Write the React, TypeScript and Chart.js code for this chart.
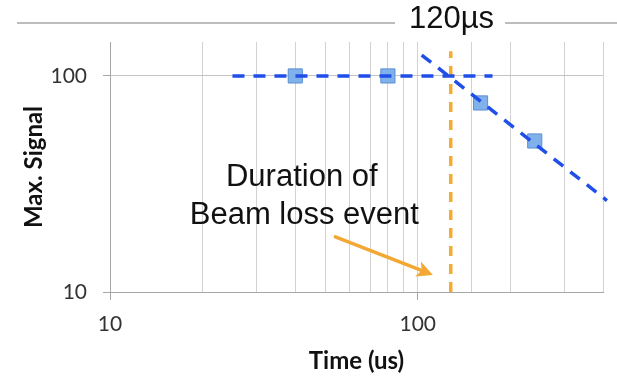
import React, { useEffect, useRef } from "react";
import { Chart, registerables } from "chart.js";

Chart.register(...registerables);

// Measured points (Time in us, Max. Signal)
const pointTimes = [40, 80, 160, 240];
const pointSignals = [100, 100, 75, 50];

// Dashed fit lines
const flatLineTimes = [25, 175];
const flatLineSignals = [100, 100];
const slopeLineTimes = [103, 412];
const slopeLineSignals = [125, 26.5];

// Duration marker (vertical orange dashed line)
const durationTimes = [128, 128];
const durationSignals = [10, 130];

// Arrow from annotation text to duration line
const arrowTimes = [54, 112];
const arrowSignals = [18, 12];

// Annotation text anchors
const noteLines = ["Duration of", "Beam loss event"];
const noteTimes = [42, 42.8];
const noteSignals = [34, 22.5];

const headerText = "120µs";
const xTickLabels = [10, 100];
const yTickLabels = [10, 100];

const toPts = (xs: number[], ys: number[]) => xs.map((x, i) => ({ x, y: ys[i] }));

const overlayPlugin = {
  id: "overlay",
  afterDatasetsDraw(chart: any) {
    const { ctx, scales } = chart;
    const xs = scales.x;
    const ys = scales.y;
    ctx.save();
    // arrow
    const x1 = xs.getPixelForValue(arrowTimes[0]);
    const y1 = ys.getPixelForValue(arrowSignals[0]);
    const x2 = xs.getPixelForValue(arrowTimes[1]);
    const y2 = ys.getPixelForValue(arrowSignals[1]);
    const ang = Math.atan2(y2 - y1, x2 - x1);
    const headLen = 16;
    const headW = 8;
    const bx = x2 - headLen * Math.cos(ang);
    const by = y2 - headLen * Math.sin(ang);
    ctx.strokeStyle = "#f2a833";
    ctx.fillStyle = "#f2a833";
    ctx.lineWidth = 3.5;
    ctx.lineCap = "round";
    ctx.beginPath();
    ctx.moveTo(x1, y1);
    ctx.lineTo(bx + 3 * Math.cos(ang), by + 3 * Math.sin(ang));
    ctx.stroke();
    ctx.beginPath();
    ctx.moveTo(x2, y2);
    ctx.lineTo(bx + headW * Math.sin(ang), by - headW * Math.cos(ang));
    ctx.lineTo(bx + 4 * Math.cos(ang), by + 4 * Math.sin(ang));
    ctx.lineTo(bx - headW * Math.sin(ang), by + headW * Math.cos(ang));
    ctx.closePath();
    ctx.fill();

    // annotation text
    ctx.fillStyle = "#111";
    ctx.font = "31px 'Liberation Sans', Arial, sans-serif";
    ctx.textAlign = "center";
    ctx.textBaseline = "middle";
    noteLines.forEach((t, i) => {
      ctx.fillText(t, xs.getPixelForValue(noteTimes[i]), ys.getPixelForValue(noteSignals[i]));
    });
    ctx.restore();
  },
  afterDraw(chart: any) {
    const { ctx } = chart;
    ctx.save();
    ctx.font = "31px 'Liberation Sans', Arial, sans-serif";
    ctx.textAlign = "left";
    ctx.textBaseline = "alphabetic";
    ctx.fillStyle = "#111";
    const tx = 409;
    const w = ctx.measureText(headerText).width;
    ctx.fillText(headerText, tx, 28);
    ctx.strokeStyle = "#bdbdbd";
    ctx.lineWidth = 2;
    ctx.beginPath();
    ctx.moveTo(17, 23);
    ctx.lineTo(tx - 14, 23);
    ctx.moveTo(tx + w + 11, 23);
    ctx.lineTo(617, 23);
    ctx.stroke();
    ctx.restore();
  },
};

export default function App() {
  const ref = useRef<HTMLCanvasElement>(null);
  useEffect(() => {
    document.body.style.margin = "0";
    const c = new Chart(ref.current!, {
      type: "scatter",
      data: {
        datasets: [
          {
            label: "slope",
            data: toPts(slopeLineTimes, slopeLineSignals),
            showLine: true,
            borderColor: "#1f4fe8",
            borderWidth: 3.5,
            borderDash: [12, 9],
            pointRadius: 0,
            clip: false as any,
            order: 0,
          },
          {
            label: "flat",
            data: toPts(flatLineTimes, flatLineSignals),
            showLine: true,
            borderColor: "#1f4fe8",
            borderWidth: 3.5,
            borderDash: [12, 9],
            pointRadius: 0,
            order: 0,
          },
          {
            label: "duration",
            data: toPts(durationTimes, durationSignals),
            showLine: true,
            borderColor: "#f5ab2e",
            borderWidth: 3.5,
            borderDash: [10, 8],
            pointRadius: 0,
            order: 0,
          },
          {
            label: "points",
            data: toPts(pointTimes, pointSignals),
            showLine: false,
            pointStyle: "rect",
            pointRadius: 10,
            pointBackgroundColor: "#80b1ea",
            pointBorderColor: "#5b8fd2",
            pointBorderWidth: 1,
            order: 5,
          },
        ],
      },
      options: {
        animation: false,
        responsive: false,
        events: [],
        layout: { padding: { top: 42, right: 14, left: 0, bottom: 0 } },
        plugins: { legend: { display: false }, tooltip: { enabled: false } },
        scales: {
          x: {
            type: "logarithmic",
            min: 10,
            max: 400,
            afterFit: (s: any) => {
              s.height = 84;
            },
            border: { color: "#a6a6a6", width: 1 },
            grid: {
              color: (ctx: any) => "#d2d2d2",
              tickColor: (ctx: any) =>
                ctx.tick && xTickLabels.includes(ctx.tick.value) ? "#a6a6a6" : "rgba(0,0,0,0)",
              tickLength: 8,
            },
            ticks: {
              autoSkip: false,
              maxRotation: 0,
              padding: 12,
              color: "#333",
              font: { family: "Lato, 'Open Sans', sans-serif", size: 21 },
              callback: (v: any) => (xTickLabels.includes(Number(v)) ? String(v) : ""),
            },
            title: {
              display: true,
              text: "Time (us)",
              color: "#111",
              font: { family: "Lato, 'Open Sans', sans-serif", size: 24, weight: "bold" },
              padding: { top: 0, bottom: 0 },
            },
          },
          y: {
            type: "logarithmic",
            min: 10,
            max: 143.6,
            afterFit: (s: any) => {
              s.width = 110;
            },
            border: { color: "#a6a6a6", width: 1 },
            grid: {
              color: (ctx: any) =>
                ctx.tick && ctx.tick.value === 100 ? "#c4c4c4" : "rgba(0,0,0,0)",
              tickColor: (ctx: any) =>
                ctx.tick && yTickLabels.includes(ctx.tick.value) ? "#a6a6a6" : "rgba(0,0,0,0)",
              tickLength: 7,
            },
            ticks: {
              autoSkip: false,
              padding: 16,
              color: "#333",
              font: { family: "Lato, 'Open Sans', sans-serif", size: 21 },
              callback: (v: any) => (yTickLabels.includes(Number(v)) ? String(v) : ""),
            },
            title: {
              display: true,
              text: "Max. Signal",
              color: "#111",
              font: { family: "Lato, 'Open Sans', sans-serif", size: 24, weight: "bold" },
              padding: { top: 20, bottom: 0 },
            },
          },
        },
      },
      plugins: [overlayPlugin],
    });
    return () => c.destroy();
  }, []);
  return (
    <div style={{ position: "absolute", left: 0, top: 0, width: 617, height: 376 }}>
      <canvas ref={ref} width={617} height={376} style={{ width: 617, height: 376 }} />
    </div>
  );
}
